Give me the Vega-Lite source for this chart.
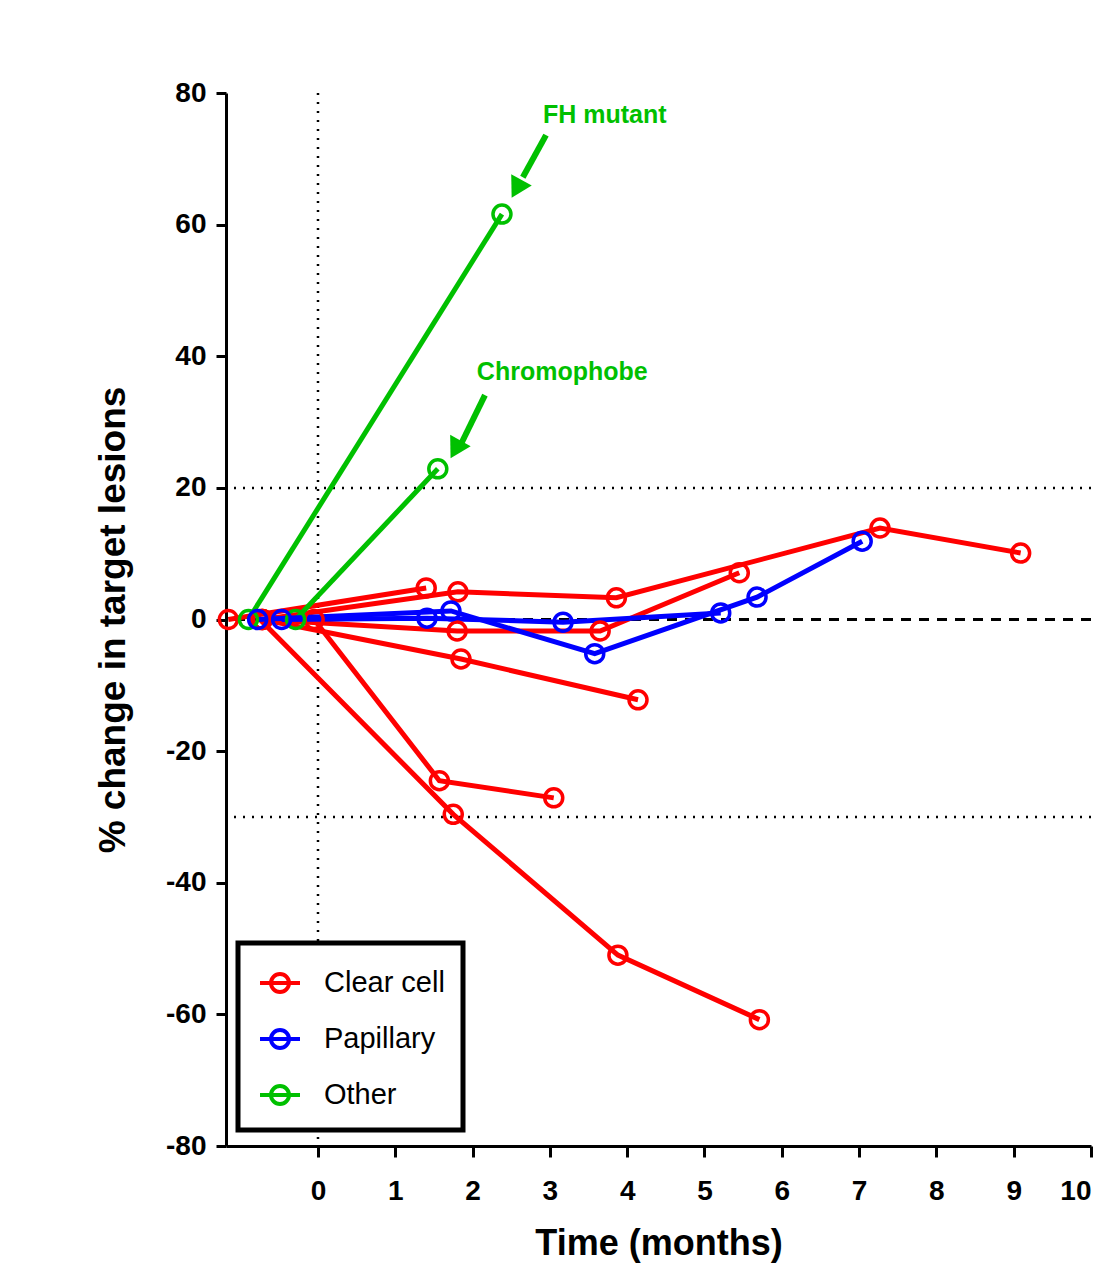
{
  "$schema": "https://vega.github.io/schema/vega-lite/v6.json",
  "width": 865,
  "height": 1053,
  "autosize": {"type": "none"},
  "padding": {"left": 226, "top": 93, "right": 20, "bottom": 120},
  "background": "white",
  "config": {
    "view": {"stroke": null},
    "font": "Liberation Sans",
    "axis": {"grid": false, "domainColor": "black", "tickColor": "black", "labelColor": "black", "titleColor": "black", "labelFont": "Liberation Sans", "titleFont": "Liberation Sans"}
  },
  "datasets": {
    "pts": [
      {"patient": "R1", "type": "Clear cell", "t": -1.16, "v": 0},
      {"patient": "R1", "type": "Clear cell", "t": 1.40, "v": 4.8},
      {"patient": "R2", "type": "Clear cell", "t": -0.72, "v": 0},
      {"patient": "R2", "type": "Clear cell", "t": 1.81, "v": 4.2},
      {"patient": "R2", "type": "Clear cell", "t": 3.86, "v": 3.3},
      {"patient": "R2", "type": "Clear cell", "t": 7.27, "v": 13.9},
      {"patient": "R2", "type": "Clear cell", "t": 9.09, "v": 10.1},
      {"patient": "R3", "type": "Clear cell", "t": -0.72, "v": 0},
      {"patient": "R3", "type": "Clear cell", "t": 1.80, "v": -1.75},
      {"patient": "R3", "type": "Clear cell", "t": 3.65, "v": -1.75},
      {"patient": "R3", "type": "Clear cell", "t": 5.45, "v": 7.1},
      {"patient": "R4", "type": "Clear cell", "t": -0.72, "v": 0},
      {"patient": "R4", "type": "Clear cell", "t": 1.85, "v": -6.0},
      {"patient": "R4", "type": "Clear cell", "t": 4.14, "v": -12.2},
      {"patient": "R5", "type": "Clear cell", "t": -0.05, "v": 0},
      {"patient": "R5", "type": "Clear cell", "t": 1.57, "v": -24.5},
      {"patient": "R5", "type": "Clear cell", "t": 3.05, "v": -27.1},
      {"patient": "R6", "type": "Clear cell", "t": -0.75, "v": 0},
      {"patient": "R6", "type": "Clear cell", "t": 1.75, "v": -29.6},
      {"patient": "R6", "type": "Clear cell", "t": 3.88, "v": -51.0},
      {"patient": "R6", "type": "Clear cell", "t": 5.71, "v": -60.8},
      {"patient": "G1", "type": "Other", "t": -0.90, "v": 0},
      {"patient": "G1", "type": "Other", "t": 2.38, "v": 61.6},
      {"patient": "G2", "type": "Other", "t": -0.29, "v": 0},
      {"patient": "G2", "type": "Other", "t": 1.55, "v": 22.9},
      {"patient": "B1", "type": "Papillary", "t": -0.78, "v": 0},
      {"patient": "B1", "type": "Papillary", "t": 1.72, "v": 1.3},
      {"patient": "B1", "type": "Papillary", "t": 3.58, "v": -5.2},
      {"patient": "B1", "type": "Papillary", "t": 5.68, "v": 3.4},
      {"patient": "B1", "type": "Papillary", "t": 7.04, "v": 11.9},
      {"patient": "B2", "type": "Papillary", "t": -0.47, "v": 0},
      {"patient": "B2", "type": "Papillary", "t": 1.41, "v": 0.2},
      {"patient": "B2", "type": "Papillary", "t": 3.17, "v": -0.4},
      {"patient": "B2", "type": "Papillary", "t": 5.21, "v": 1.0}
    ]
  },
  "layer": [
    {
      "data": {"values": [{"v": 20}, {"v": -30}]},
      "mark": {"type": "rule", "color": "black", "strokeWidth": 2.5, "strokeDash": [2, 7]},
      "encoding": {"y": {"field": "v", "type": "quantitative"}}
    },
    {
      "data": {"values": [{"t": 0}]},
      "mark": {"type": "rule", "color": "black", "strokeWidth": 2.5, "strokeDash": [2, 7]},
      "encoding": {"x": {"field": "t", "type": "quantitative"}}
    },
    {
      "data": {"values": [{"v": 0}]},
      "mark": {"type": "rule", "color": "black", "strokeWidth": 3, "strokeDash": [10, 8]},
      "encoding": {"y": {"field": "v", "type": "quantitative"}}
    },
    {
      "data": {"name": "pts"},
      "mark": {"type": "line", "strokeWidth": 5},
      "encoding": {
        "x": {
          "field": "t", "type": "quantitative",
          "scale": {"domain": [-1.19, 10], "nice": false, "zero": false},
          "axis": {"title": "Time (months)", "values": [0, 1, 2, 3, 4, 5, 6, 7, 8, 9, 10], "labelExpr": "'' + datum.value", "tickSize": 11, "tickWidth": 3, "domainWidth": 3, "labelFontSize": 28, "labelFontWeight": "bold", "labelPadding": 20, "titleFontSize": 36, "titleFontWeight": "bold", "titlePadding": 21}
        },
        "y": {
          "field": "v", "type": "quantitative",
          "scale": {"domain": [-80, 80], "nice": false, "zero": false},
          "axis": {"title": "% change in target lesions", "values": [-80, -60, -40, -20, 0, 20, 40, 60, 80], "labelExpr": "'' + datum.value", "tickSize": 10, "tickWidth": 3, "domainWidth": 3, "labelFontSize": 28, "labelFontWeight": "bold", "labelPadding": 10, "titleFontSize": 37, "titleFontWeight": "bold", "titlePadding": 33}
        },
        "color": {
          "field": "type", "type": "nominal",
          "scale": {"domain": ["Clear cell", "Papillary", "Other"], "range": ["#FF0000", "#0000FF", "#00C000"]},
          "legend": {
            "title": null, "orient": "none", "legendX": 12, "legendY": 850, "direction": "vertical",
            "padding": 18, "strokeColor": "black", "fillColor": "white",
            "symbolType": "M-1,0H1M0.45,0A0.45,0.45,0,1,1,-0.45,0A0.45,0.45,0,1,1,0.45,0",
            "symbolSize": 1600, "symbolStrokeWidth": 4, "symbolFillColor": "transparent", "symbolOffset": 2,
            "labelFontSize": 29, "labelFont": "Liberation Sans", "labelColor": "black", "labelOffset": 22, "rowPadding": 17,
            "encode": {"legend": {"update": {"strokeWidth": {"value": 5}}}}
          }
        },
        "detail": {"field": "patient"},
        "order": {"field": "t", "type": "quantitative"}
      }
    },
    {
      "data": {"name": "pts"},
      "mark": {"type": "point", "shape": "circle", "filled": false, "size": 324, "strokeWidth": 3.5, "opacity": 1},
      "encoding": {
        "x": {"field": "t", "type": "quantitative"},
        "y": {"field": "v", "type": "quantitative"},
        "color": {"field": "type", "type": "nominal", "legend": null}
      }
    },
    {
      "data": {"values": [
        {"t": 2.95, "v": 73.6, "t2": 2.65, "v2": 67.2},
        {"t": 2.16, "v": 34.1, "t2": 1.86, "v2": 26.9}
      ]},
      "mark": {"type": "rule", "color": "#00C000", "strokeWidth": 6},
      "encoding": {
        "x": {"field": "t", "type": "quantitative"},
        "y": {"field": "v", "type": "quantitative"},
        "x2": {"field": "t2"},
        "y2": {"field": "v2"}
      }
    },
    {
      "data": {"values": [
        {"t": 2.59, "v": 65.9},
        {"t": 1.80, "v": 26.3}
      ]},
      "mark": {"type": "point", "shape": "triangle", "filled": true, "color": "#00C000", "size": 550, "angle": 209, "opacity": 1},
      "encoding": {
        "x": {"field": "t", "type": "quantitative"},
        "y": {"field": "v", "type": "quantitative"}
      }
    },
    {
      "data": {"values": [
        {"t": 3.71, "v": 76.7, "label": "FH mutant"},
        {"t": 3.16, "v": 37.6, "label": "Chromophobe"}
      ]},
      "mark": {"type": "text", "color": "#00C000", "fontWeight": "bold", "fontSize": 25, "font": "Liberation Sans", "align": "center", "baseline": "middle"},
      "encoding": {
        "x": {"field": "t", "type": "quantitative"},
        "y": {"field": "v", "type": "quantitative"},
        "text": {"field": "label"}
      }
    }
  ]
}
